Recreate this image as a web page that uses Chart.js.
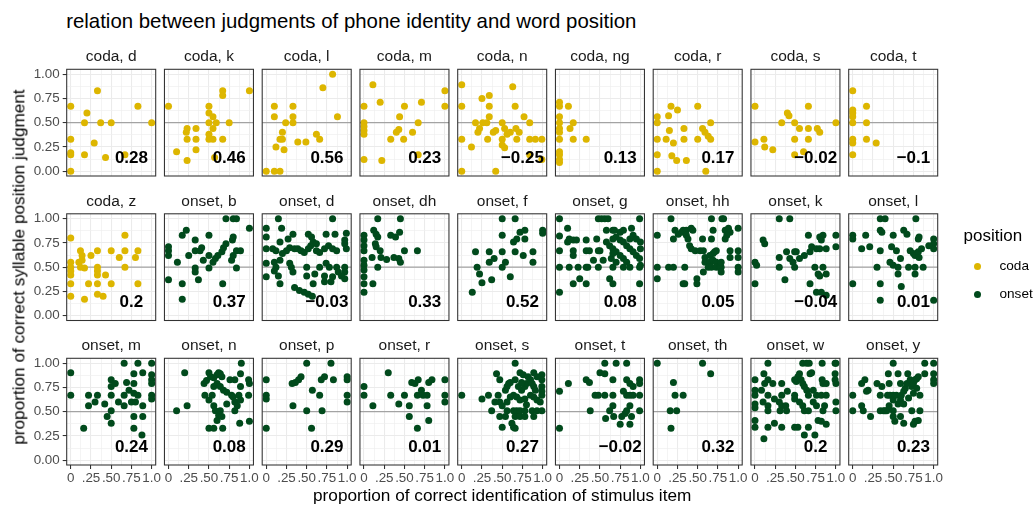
<!DOCTYPE html>
<html>
<head>
<meta charset="utf-8">
<script src="https://cdn.jsdelivr.net/npm/chart.js"></script>
<style>
  html, body { margin: 0; padding: 0; background: #ffffff; }
  body { position: relative; width: 1035px; height: 506px; overflow: hidden;
         font-family: "Liberation Sans", Arial, Helvetica, sans-serif; }
  canvas { position: absolute; }
  .txt { position: absolute; white-space: nowrap; line-height: 1; }
</style>
</head>
<body>
<script>
// ---- facet definitions -------------------------------------------------
const positions = ['coda','coda','coda','coda','coda','coda','coda','coda','coda',
                   'coda','onset','onset','onset','onset','onset','onset','onset','onset',
                   'onset','onset','onset','onset','onset','onset','onset','onset','onset'];
const phones = ['d','k','l','m','n','ng','r','s','t',
                'z','b','d','dh','f','g','hh','k','l',
                'm','n','p','r','s','t','th','w','y'];
const correlations = [0.28, 0.46, 0.56, 0.23, -0.25, 0.13, 0.17, -0.02, -0.1,
                      0.2, 0.37, -0.03, 0.33, 0.52, 0.08, 0.05, -0.04, 0.01,
                      0.24, 0.08, 0.29, 0.01, 0.27, -0.02, 0.32, 0.2, 0.23];

const xTickLabels = ['0', '.25', '.50', '.75', '1.0'];
const yTickLabels = ['0.00', '0.25', '0.50', '0.75', '1.00'];
const referenceLevel = 0.5;

// ---- observations: [identification, position judgment] -----------------
const codaD = [[0,0.67],[0,0.33],[0,0.19],[0,0.17],[0,0],[0.2,0.6],[0.17,0.5],[0.33,0.83],[0.37,0.5],[0.5,0.5],[0.29,0.29],[0.17,0.17],[0.43,0.14],[0.67,0.17],[0.83,0.67],[1,0.5]];
const codaK = [[0,0.67],[0.1,0.2],[0.23,0.44],[0.22,0.4],[0.23,0.33],[0.23,0.11],[0.34,0.44],[0.34,0.33],[0.34,0.22],[0.5,0.67],[0.5,0.6],[0.5,0.5],[0.5,0.38],[0.5,0.33],[0.55,0.56],[0.55,0.44],[0.55,0.33],[0.59,0.5],[0.67,0.83],[0.67,0.78],[0.67,0.33],[0.75,0.5],[0.57,0.14],[1,0.83]];
const codaL = [[0,0],[0.1,0],[0.17,0],[0.1,0.67],[0.1,0.56],[0.12,0.25],[0.17,0.33],[0.2,0.4],[0.2,0.33],[0.22,0.22],[0.24,0.5],[0.33,0.67],[0.33,0.56],[0.33,0.5],[0.39,0.3],[0.49,0.3],[0.62,0.38],[0.66,0.33],[0.7,0.86],[0.82,1],[0.88,0.56]];
const codaM = [[0,0.67],[0,0.5],[0,0.46],[0,0.42],[0,0.38],[0,0.12],[0.11,0.89],[0.2,0.71],[0.22,0.11],[0.33,0.33],[0.4,0.4],[0.43,0.43],[0.44,0.56],[0.49,0.33],[0.5,0.67],[0.6,0.4],[0.67,0.5],[0.71,0.71],[0.67,0.17],[1,0.83],[1,0.67]];
const codaN = [[0,0.89],[0,0.67],[0,0.33],[0,0],[0.12,0.25],[0.17,0.5],[0.2,0.4],[0.22,0.44],[0.25,0.75],[0.34,0.78],[0.26,0.5],[0.31,0.5],[0.34,0.67],[0.34,0.56],[0.32,0.33],[0.39,0.4],[0.42,0.42],[0.42,0],[0.5,0.5],[0.5,0.33],[0.5,0.27],[0.53,0.44],[0.53,0.24],[0.56,0.38],[0.6,0.4],[0.63,0.87],[0.66,0.67],[0.67,0.44],[0.71,0.4],[0.77,0.56],[0.84,0.5],[0.84,0.33],[0.91,0.33],[0.99,0.33],[0.84,0.17],[0.99,0.12],[0.68,0.33]];
const codaNg = [[0,0.71],[0,0.67],[0,0.56],[0,0.5],[0,0.44],[0,0.4],[0,0.33],[0,0.2],[0,0.17],[0,0.12],[0,0.09],[0.11,0.67],[0.13,0.44],[0.17,0.5],[0.17,0.33],[0.33,0.33]];
const codaR = [[0,0.56],[0,0.5],[0,0.33],[0,0.17],[0,0],[0.11,0.33],[0.14,0.57],[0.17,0.67],[0.25,0.63],[0.15,0.42],[0.2,0.29],[0.33,0.44],[0.18,0.16],[0.24,0.11],[0.33,0.33],[0.36,0.11],[0.5,0.67],[0.5,0.33],[0.56,0.44],[0.59,0.4],[0.63,0.36],[0.66,0.33],[0.66,0.5],[0.6,0]];
const codaS = [[0,0.67],[0,0.3],[0.11,0.33],[0.12,0.25],[0.22,0.22],[0.33,0.5],[0.4,0.6],[0.42,0.57],[0.49,0.5],[0.49,0.33],[0.49,0.17],[0.55,0.44],[0.6,0.2],[0.66,0.67],[0.66,0.44],[0.66,0.33],[0.77,0.44],[0.8,0.4],[1,0.5]];
const codaT = [[0,0.83],[0,0.63],[0,0.6],[0,0.56],[0,0.5],[0,0.33],[0,0.29],[0,0.17],[0.17,0.67],[0.17,0.5],[0.17,0.33],[0.29,0.29]];
const codaZ = [[0,0.8],[0,0.55],[0,0.5],[0,0.46],[0,0.42],[0,0.33],[0,0.2],[0.1,0.55],[0.12,0.5],[0.12,0.67],[0.14,0.62],[0.14,0.57],[0.17,0.49],[0.17,0.17],[0.22,0.33],[0.25,0.62],[0.33,0.67],[0.33,0.5],[0.33,0.46],[0.33,0.42],[0.33,0.33],[0.33,0.22],[0.4,0.2],[0.43,0.42],[0.5,0.67],[0.5,0.33],[0.6,0.6],[0.67,0.83],[0.67,0.67],[0.67,0.5],[0.8,0.6],[0.83,0.67],[0.83,0.33]];
const onsetB = [[0,0.71],[0,0.67],[0,0.62],[0,0.37],[0.11,0.55],[0.17,0.83],[0.22,0.88],[0.17,0.33],[0.17,0.17],[0.25,0.62],[0.33,0.78],[0.33,0.67],[0.33,0.49],[0.33,0.45],[0.37,0.37],[0.39,0.67],[0.41,0.7],[0.43,0.57],[0.5,0.83],[0.5,0.62],[0.5,0.49],[0.55,0.55],[0.58,0.59],[0.61,0.62],[0.66,0.66],[0.68,0.7],[0.71,0.74],[0.67,0.33],[0.78,0.57],[0.8,0.62],[0.84,0.67],[0.79,0.78],[0.8,0.81],[0.84,0.49],[0.71,1],[0.8,1],[0.84,1],[0.89,0.67],[1,0.9]];
const onsetD = [[0.15,1],[0.82,1],[0,0.9],[0,0.81],[0.19,0.9],[0.33,0.84],[0.52,0.84],[0.56,0.81],[0.74,0.84],[0.85,0.84],[0.99,0.85],[0,0.69],[0.08,0.69],[0.12,0.67],[0.17,0.76],[0.27,0.79],[0.29,0.7],[0.25,0.67],[0.2,0.64],[0.35,0.69],[0.39,0.69],[0.43,0.67],[0.47,0.65],[0.52,0.69],[0.55,0.72],[0.58,0.76],[0.62,0.74],[0.62,0.67],[0.66,0.65],[0.72,0.69],[0.77,0.72],[0.82,0.69],[0.87,0.67],[0.97,0.74],[0.99,0.69],[0.97,0.78],[0,0.54],[0,0.4],[0.1,0.55],[0.12,0.5],[0.17,0.57],[0.29,0.54],[0.31,0.5],[0.5,0.5],[0.66,0.5],[0.74,0.54],[0.78,0.5],[0.87,0.5],[0.97,0.5],[0.97,0.45],[0.1,0.46],[0.15,0.41],[0.33,0.45],[0.5,0.41],[0.6,0.43],[0.72,0.41],[0.89,0.45],[0.97,0.38],[0.17,0.33],[0.35,0.29],[0.41,0.26],[0.47,0.24],[0.52,0.22],[0.57,0.2],[0.58,0.33],[0.72,0.35],[0.8,0.35],[0.93,0.41],[0.82,0.4]];
const onsetDh = [[0.17,1],[0.45,1],[0,0.83],[0,0.78],[0,0.72],[0,0.67],[0,0.57],[0,0.52],[0,0.47],[0,0.4],[0,0.33],[0,0.24],[0.12,0.88],[0.15,0.84],[0.17,0.81],[0.14,0.74],[0.15,0.71],[0.2,0.67],[0.21,0.6],[0.1,0.6],[0.17,0.5],[0.11,0.33],[0.28,0.58],[0.33,0.83],[0.39,0.81],[0.44,0.86],[0.37,0.6],[0.43,0.59],[0.45,0.55],[0.5,0.67],[0.66,0.67]];
const onsetF = [[0.5,1],[0.66,1],[0.5,0.83],[0.72,0.86],[0.78,0.88],[0.68,0.79],[0.64,0.76],[0.78,0.79],[1,0.88],[1,0.85],[0.17,0.66],[0.34,0.66],[0.5,0.66],[0.66,0.66],[0.4,0.59],[0.34,0.55],[0.54,0.55],[0.76,0.62],[0.88,0.66],[0.88,0.55],[0.19,0.5],[0.22,0.43],[0.5,0.5],[0.37,0.37],[0.6,0.4],[0.25,0.34],[0.13,0.24]];
const onsetG = [[0,1],[0.48,1],[0.52,1],[0.56,1],[0.6,1],[0.99,1],[0.1,0.9],[0,0.82],[0.12,0.79],[0.17,0.78],[0.21,0.78],[0.33,0.78],[0.46,0.79],[0,0.67],[0.17,0.67],[0.33,0.67],[0.5,0.67],[0.66,0.88],[0.75,0.86],[0.79,0.88],[0.89,0.9],[0,0.5],[0.12,0.5],[0.23,0.5],[0.33,0.5],[0.35,0.5],[0.48,0.5],[0.66,0.5],[0.79,0.5],[0.87,0.5],[0.99,0.5],[0.25,0.38],[0.33,0.33],[0.17,0.33],[0.62,0.38],[0.66,0.33],[0,0.24],[0.99,0.33],[0.42,0.57],[0.54,0.57],[0.58,0.76],[0.62,0.72],[0.66,0.69],[0.7,0.66],[0.75,0.62],[0.79,0.59],[0.83,0.55],[0.66,0.79],[0.7,0.81],[0.75,0.78],[0.79,0.76],[0.83,0.72],[0.87,0.69],[0.91,0.66],[0.95,0.62],[0.99,0.59],[1,0.69],[1,0.76],[1,0.52],[0.7,0.55],[0.64,0.59],[0.66,0.64],[0.87,0.79],[0.91,0.83],[0.95,0.79],[0.58,0.88],[0.68,0.88],[0.1,0.76],[0.37,0.67],[0.48,0.67],[0.17,0.62]];
const onsetHh = [[0,0.83],[0.17,1],[0.22,0.88],[0.26,0.84],[0.3,0.86],[0.32,0.88],[0.2,0.79],[0,0.5],[0,0.38],[0.14,0.5],[0.2,0.5],[0.32,0.33],[0.34,0.33],[0.36,0.88],[0.42,0.9],[0.44,0.88],[0.36,0.83],[0.38,0.79],[0.4,0.72],[0.42,0.69],[0.34,0.5],[0.49,0.38],[0.49,0.33],[0.47,0.67],[0.53,0.67],[0.57,0.67],[0.56,0.79],[0.67,0.79],[0.67,1],[0.82,1],[0.8,1],[0.69,0.88],[0.84,0.88],[0.88,0.9],[0.9,0.86],[0.86,0.83],[0.84,0.79],[1,0.9],[0.59,0.6],[0.65,0.62],[0.69,0.64],[0.71,0.66],[0.73,0.67],[0.59,0.55],[0.65,0.55],[0.69,0.57],[0.73,0.55],[0.63,0.5],[0.67,0.5],[0.73,0.5],[0.77,0.5],[0.79,0.5],[0.79,0.55],[0.9,0.6],[0.9,0.67],[1,0.67],[1,0.6],[1,0.5],[1,0.45],[0.79,0.45],[0.57,0.45]];
const onsetK = [[0.3,1],[0.43,1],[0.1,0.78],[0.12,0.74],[0.66,0.83],[0.8,0.81],[0.84,0.83],[0.82,0.78],[1,0.83],[0.39,0.66],[0.49,0.66],[0.51,0.66],[0.7,0.71],[0.76,0.69],[0.8,0.69],[0.88,0.69],[1,0.71],[0.68,0.66],[0.3,0.6],[0.43,0.59],[0.47,0.55],[0.55,0.59],[0.61,0.62],[0,0.55],[0.02,0.52],[0.3,0.5],[0.49,0.5],[0.74,0.5],[0.84,0.5],[0.78,0.43],[0.8,0.41],[0.88,0.43],[0,0.33],[0.37,0.37],[0.68,0.33],[0.76,0.24],[0.82,0.24],[0.88,0.21]];
const onsetL = [[0.34,1],[0.4,1],[0.78,1],[0,0.83],[0,0.79],[0.16,0.83],[0.34,0.88],[0.36,0.86],[0.5,0.83],[0.63,0.88],[0.67,0.84],[0.82,0.81],[0.81,0.79],[1,0.79],[1,0.74],[1,0.69],[0.11,0.69],[0.21,0.71],[0.34,0.67],[0.48,0.71],[0.54,0.67],[0.59,0.59],[0.71,0.67],[0.75,0.64],[0.77,0.62],[0.81,0.66],[0.85,0.69],[0.82,0.6],[0.94,0.72],[0.46,0.55],[0.5,0.52],[0.56,0.5],[0.69,0.5],[0.77,0.5],[0.87,0.5],[0.3,0.5],[0.56,0.43],[0.77,0.43],[0,0.33],[0.34,0.33],[0.6,0.3],[0.34,0.16],[1,0.16]];
const onsetM = [[0,0.9],[0,0.67],[0.16,0.33],[0.22,0.67],[0.22,0.56],[0.3,0.6],[0.33,0.67],[0.42,0.58],[0.45,0.45],[0.5,0.83],[0.5,0.76],[0.5,0.67],[0.5,0.51],[0.5,0.38],[0.55,0.79],[0.59,0.6],[0.66,1],[0.66,0.67],[0.66,0.56],[0.69,0.8],[0.72,0.72],[0.75,0.6],[0.78,0.79],[0.78,0.89],[0.78,0.69],[0.78,0.45],[0.78,0.33],[0.8,0.6],[0.83,1],[0.83,0.67],[0.89,0.9],[0.89,0.56],[0.89,0.45],[0.88,0.26],[1,1],[1,0.88],[1,0.83],[1,0.79],[1,0.67],[1,0.63]];
const onsetN = [[0.1,0.51],[0.2,0.9],[0.23,0.56],[0.44,0.79],[0.47,0.82],[0.52,0.86],[0.56,0.85],[0.6,0.88],[0.64,0.89],[0.66,0.86],[0.5,0.9],[0.62,0.9],[0.45,0.67],[0.5,0.62],[0.54,0.67],[0.56,0.56],[0.58,0.51],[0.62,0.46],[0.6,0.41],[0.5,0.33],[0.56,0.33],[0.64,0.51],[0.66,0.45],[0.67,0.33],[0.56,0.76],[0.6,0.79],[0.64,0.76],[0.68,0.72],[0.72,0.7],[0.72,0.58],[0.78,0.67],[0.8,0.65],[0.82,0.6],[0.85,0.56],[0.82,0.83],[0.82,0.51],[0.87,0.67],[0.89,0.62],[0.88,0.38],[0.89,0.89],[0.9,1],[0.89,0.76],[0.99,0.83],[1,0.79],[1,0.4],[0.99,0.67],[0.76,0.83]];
const onsetP = [[0,0.83],[0,0.67],[0,0.63],[0,0.33],[0.33,0.56],[0.32,0.79],[0.36,0.8],[0.4,0.83],[0.43,0.86],[0.5,1],[0.5,0.51],[0.56,0.33],[0.57,0.72],[0.66,0.67],[0.68,0.83],[0.72,0.86],[0.69,0.51],[0.8,1],[0.83,0.83],[1,0.86],[1,0.83],[1,0.67],[1,0.6]];
const onsetR = [[0,0.76],[0,0.67],[0.11,0.56],[0.3,0.9],[0.33,0.67],[0.43,0.58],[0.5,0.67],[0.56,0.56],[0.56,0.45],[0.59,0.8],[0.63,0.79],[0.67,0.83],[0.66,0.33],[0.66,0.67],[0.71,0.72],[0.73,0.67],[0.78,0.56],[0.8,0.41],[0.78,0.67],[0.8,0.8],[0.84,0.83],[1,0.83],[1,0.67],[1,0.6]];
const onsetS = [[0,0.67],[0.25,0.63],[0.33,0.67],[0.37,0.51],[0.43,0.89],[0.47,0.83],[0.45,0.67],[0.47,0.6],[0.5,0.56],[0.47,0.45],[0.5,0.34],[0.54,0.72],[0.56,0.76],[0.58,0.79],[0.6,0.8],[0.56,0.6],[0.56,0.51],[0.54,0.45],[0.62,0.38],[0.64,0.34],[0.66,1],[0.66,0.83],[0.72,0.9],[0.76,0.88],[0.82,0.86],[0.89,0.9],[0.64,0.67],[0.68,0.65],[0.72,0.62],[0.78,0.63],[0.64,0.51],[0.68,0.51],[0.72,0.51],[0.78,0.51],[0.66,0.45],[0.72,0.45],[0.78,0.45],[0.66,0.33],[0.74,0.72],[0.78,0.76],[0.8,0.79],[0.85,0.83],[0.87,0.79],[0.89,0.76],[0.91,0.72],[0.85,0.67],[0.89,0.65],[0.93,0.62],[0.97,0.6],[0.87,0.51],[0.93,0.51],[0.99,0.51],[0.89,0.45],[0.99,0.88],[0.99,0.83],[0.99,0.76],[0.99,0.71],[0.99,0.67],[0.7,0.76],[0.74,0.8],[0.93,0.86],[0.41,0.6],[0.6,0.65],[0.8,0.57]];
const onsetT = [[0,0.71],[0,0.33],[0.11,0.79],[0.33,0.83],[0.37,0.8],[0.44,0.67],[0.48,0.67],[0.38,0.51],[0.5,0.9],[0.56,0.89],[0.56,1],[0.7,1],[0.83,1],[0.66,0.83],[0.56,0.67],[0.66,0.67],[0.57,0.43],[0.62,0.51],[0.66,0.56],[0.67,0.45],[0.75,0.37],[0.77,0.45],[0.81,0.48],[0.83,0.51],[0.87,0.56],[0.79,0.71],[0.83,0.67],[0.87,0.67],[0.91,0.67],[0.83,0.83],[0.87,0.79],[0.91,0.76],[0.89,0.45],[0.87,0.37],[0.99,0.83],[0.99,0.79],[0.99,0.67],[0.99,0.51]];
const onsetTh = [[0,1],[0.2,0.8],[0.22,0.67],[0.32,0.67],[0.16,0.51],[0.24,0.51],[0.17,0.33],[0.56,1],[0.66,0.89]];
const onsetW = [[0,0.83],[0,0.72],[0,0.67],[0,0.58],[0,0.54],[0,0.41],[0,0.34],[0.11,0.89],[0.11,0.22],[0.16,1],[0.16,0.83],[0.16,0.67],[0.16,0.56],[0.16,0.51],[0.16,0.34],[0.12,0.79],[0.08,0.72],[0.1,0.6],[0.22,0.79],[0.24,0.63],[0.24,0.38],[0.33,0.79],[0.33,0.67],[0.33,0.56],[0.33,0.34],[0.3,0.6],[0.31,0.51],[0.4,0.71],[0.38,0.56],[0.39,0.51],[0.49,0.83],[0.51,0.81],[0.53,0.86],[0.49,0.67],[0.49,0.63],[0.49,0.34],[0.53,0.34],[0.55,0.89],[0.57,0.83],[0.59,0.79],[0.61,0.76],[0.64,0.72],[0.66,0.67],[0.55,0.6],[0.59,0.56],[0.61,0.51],[0.66,0.51],[0.61,0.26],[0.66,0.34],[0.74,0.26],[0.68,0.89],[0.7,0.9],[0.72,0.72],[0.76,0.67],[0.82,0.67],[0.88,0.67],[0.84,0.79],[0.88,0.79],[0.83,0.83],[0.72,0.6],[0.76,0.56],[0.78,0.41],[0.82,0.4],[0.88,0.37],[0.86,0.56],[0.84,0.51],[0.99,0.89],[0.99,0.83],[1,0.79],[1,0.6],[1,0.51],[0.59,1],[0.64,1],[0.67,1],[0.83,1],[0.99,1],[1,1]];
const onsetY = [[0,0.67],[0,0.51],[0.11,0.79],[0.15,0.83],[0.17,0.71],[0.19,0.72],[0.11,0.56],[0.13,0.51],[0.22,0.45],[0.3,0.79],[0.34,0.67],[0.34,0.51],[0.36,0.76],[0.38,0.51],[0.4,0.51],[0.44,0.89],[0.45,0.79],[0.43,0.67],[0.42,0.51],[0.45,0.56],[0.46,0.67],[0.5,1],[0.5,0.67],[0.5,0.62],[0.5,0.51],[0.5,0.45],[0.52,0.4],[0.56,0.89],[0.59,0.79],[0.54,0.67],[0.56,0.58],[0.59,0.62],[0.6,0.67],[0.63,0.71],[0.65,0.74],[0.67,0.79],[0.68,0.89],[0.71,0.83],[0.73,0.76],[0.75,0.79],[0.77,0.83],[0.79,0.84],[0.81,0.86],[0.59,0.45],[0.63,0.38],[0.75,0.37],[0.77,0.4],[0.81,0.41],[0.73,0.51],[0.83,0.51],[0.83,0.67],[0.89,1],[1,1],[0.89,0.89],[1,0.89],[1,0.83],[1,0.79],[0.63,0.58],[0.69,0.64],[0.75,0.69],[0.79,0.74]];

const panelPoints = [codaD, codaK, codaL, codaM, codaN, codaNg, codaR, codaS, codaT,
                     codaZ, onsetB, onsetD, onsetDh, onsetF, onsetG, onsetHh, onsetK, onsetL,
                     onsetM, onsetN, onsetP, onsetR, onsetS, onsetT, onsetTh, onsetW, onsetY];

// ---- styling & layout --------------------------------------------------
const FONT = '"Liberation Sans", Arial, Helvetica, sans-serif';
const COLORS = { coda: '#DDB600', onset: '#014A1C' };
const NCOL = 9;
const PANEL_X0 = 66.7, PANEL_DX = 97.75, PANEL_W = 89;
const PANEL_Y0 = 69.3, PANEL_DY = 144.5, PANEL_H = 106.7;
const AXIS_MIN = -0.05, AXIS_MAX = 1.05;
const GRID_VALUES = [0, 0.125, 0.25, 0.375, 0.5, 0.625, 0.75, 0.875, 1];
const LABEL_AT = { x: 0.75, y: 0.15 };
const POINT_R = 3.5;
const TICK_FONT = 13.4;

const isMajor = v => v !== undefined && Math.abs(v * 4 - Math.round(v * 4)) < 1e-9;
const fmtCorr = v => (v < 0 ? '\u2212' : '') + String(Math.abs(v));

function addText(str, x, baseline, size, opts = {}) {
  const d = document.createElement('div');
  d.className = 'txt';
  d.textContent = str;
  d.style.fontSize = size + 'px';
  d.style.color = opts.color || '#000';
  d.style.top = (baseline - 0.8465 * size) + 'px';
  d.style.left = x + 'px';
  if (opts.center) d.style.transform = 'translateX(-50%)';
  document.body.appendChild(d);
  return d;
}

// frame around each panel and the correlation value printed inside it
const panelDecor = {
  id: 'panelDecor',
  afterDatasetsDraw(chart, args, opts) {
    const { ctx, chartArea: a, scales: { x, y } } = chart;
    ctx.save();
    ctx.font = 'bold 17px ' + FONT;
    ctx.fillStyle = '#000000';
    ctx.textAlign = 'center';
    ctx.textBaseline = 'alphabetic';
    ctx.fillText(opts.label, x.getPixelForValue(LABEL_AT.x), y.getPixelForValue(LABEL_AT.y) + 6);
    ctx.strokeStyle = '#333333';
    ctx.lineWidth = 1.07;
    ctx.strokeRect(a.left, a.top, a.width, a.height);
    ctx.restore();
  }
};

function gridScale(showLabels, labels, fixedSize, isX) {
  return {
    type: 'linear',
    min: AXIS_MIN,
    max: AXIS_MAX,
    afterBuildTicks: s => { s.ticks = GRID_VALUES.map(v => ({ value: v })); },
    afterFit: s => { if (isX) s.height = fixedSize; else s.width = fixedSize; },
    border: { display: false },
    grid: {
      color: c => isMajor(c.tick && c.tick.value) ? '#EBEBEB' : '#EFEFEF',
      lineWidth: c => isMajor(c.tick && c.tick.value) ? 1.07 : 0.7,
      drawTicks: showLabels,
      tickLength: 4,
      tickWidth: 1.07,
      tickColor: c => isMajor(c.tick && c.tick.value) ? '#333333' : 'rgba(0,0,0,0)'
    },
    ticks: {
      display: showLabels,
      autoSkip: false,
      maxRotation: 0,
      minRotation: 0,
      padding: isX ? 1 : 3,
      color: '#4D4D4D',
      font: { family: FONT, size: TICK_FONT },
      callback: v => isMajor(v) ? labels[Math.round(v * 4)] : ''
    }
  };
}

function buildPanel(i) {
  const row = Math.floor(i / NCOL), col = i % NCOL;
  const left = PANEL_X0 + col * PANEL_DX, top = PANEL_Y0 + row * PANEL_DY;
  const showY = col === 0, showX = row === 2;
  const padL = showY ? 60 : 6, padR = 16, padT = 14, padB = showX ? 32 : 14;
  const cx = Math.floor(left - padL), cy = Math.floor(top - padT);
  const cw = Math.ceil(left + PANEL_W + padR) - cx;
  const ch = Math.ceil(top + PANEL_H + padB) - cy;
  const yAxisW = showY ? 54 : 0, xAxisH = showX ? 26 : 0;

  const canvas = document.createElement('canvas');
  canvas.width = cw; canvas.height = ch;
  canvas.style.left = cx + 'px'; canvas.style.top = cy + 'px';
  canvas.style.width = cw + 'px'; canvas.style.height = ch + 'px';
  document.body.appendChild(canvas);

  const color = COLORS[positions[i]];
  new Chart(canvas, {
    type: 'scatter',
    data: {
      datasets: [
        {
          data: panelPoints[i].map(p => ({ x: p[0], y: p[1] })),
          backgroundColor: color,
          borderColor: color,
          borderWidth: 0,
          pointRadius: POINT_R,
          pointHoverRadius: POINT_R,
          order: 1
        },
        {
          data: [{ x: AXIS_MIN, y: referenceLevel }, { x: AXIS_MAX, y: referenceLevel }],
          showLine: true,
          borderColor: '#A3A3A3',
          borderWidth: 1.07,
          pointRadius: 0,
          order: 2
        }
      ]
    },
    options: {
      responsive: false,
      animation: false,
      devicePixelRatio: 1,
      events: [],
      layout: {
        padding: {
          left: left - cx - yAxisW,
          right: cx + cw - (left + PANEL_W),
          top: top - cy,
          bottom: cy + ch - (top + PANEL_H) - xAxisH
        }
      },
      scales: {
        x: gridScale(showX, xTickLabels, xAxisH, true),
        y: gridScale(showY, yTickLabels, yAxisW, false)
      },
      plugins: {
        legend: { display: false },
        tooltip: { enabled: false },
        panelDecor: { label: fmtCorr(correlations[i]) }
      }
    },
    plugins: [panelDecor]
  });

  // facet strip label
  addText(positions[i] + ', ' + phones[i], left + PANEL_W / 2, top - 8, 15.5, { center: true, color: '#1A1A1A' });
}

for (let i = 0; i < panelPoints.length; i++) buildPanel(i);

// titles
addText('relation between judgments of phone identity and word position', 66.2, 28.3, 20.4);
addText('proportion of correct identification of stimulus item',
        PANEL_X0 + (8 * PANEL_DX + PANEL_W) / 2, 501.5, 17.2, { center: true });
const yTitle = document.createElement('div');
yTitle.className = 'txt';
yTitle.textContent = 'proportion of correct syllable position judgment';
yTitle.style.fontSize = '17.2px';
yTitle.style.left = '18.6px';
yTitle.style.top = (PANEL_Y0 + (2 * PANEL_DY + PANEL_H) / 2) + 'px';
yTitle.style.transform = 'translate(-50%, -50%) rotate(-90deg)';
document.body.appendChild(yTitle);

// legend
addText('position', 963.5, 241.5, 17);
[['coda', 266.7, 271], ['onset', 294, 298.3]].forEach(([key, cyDot, base]) => {
  const dot = document.createElement('div');
  dot.style.position = 'absolute';
  dot.style.width = dot.style.height = (2 * POINT_R) + 'px';
  dot.style.borderRadius = '50%';
  dot.style.background = COLORS[key];
  dot.style.left = (977.7 - POINT_R) + 'px';
  dot.style.top = (cyDot - POINT_R) + 'px';
  document.body.appendChild(dot);
  addText(key, 999.5, base, 13.6, { color: '#000' });
});
</script>
</body>
</html>
